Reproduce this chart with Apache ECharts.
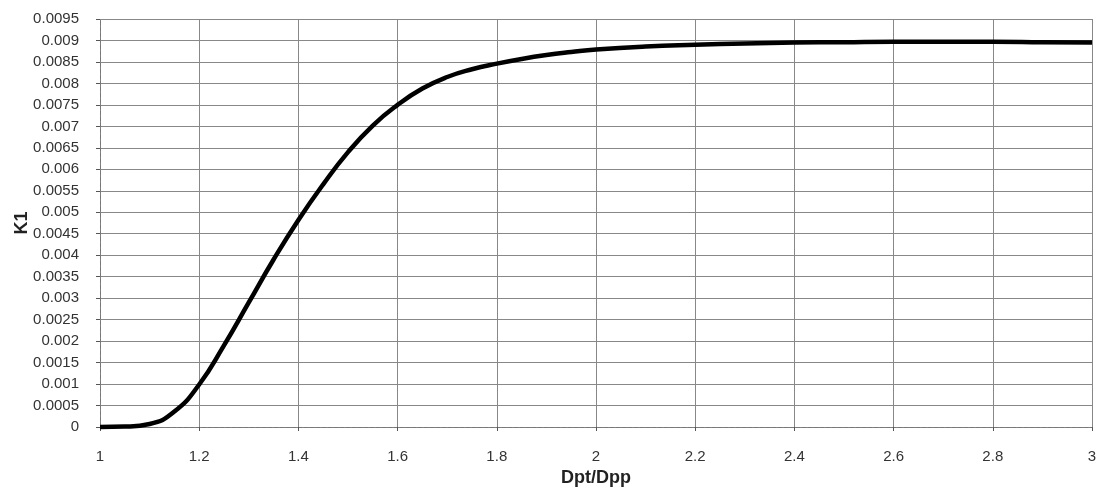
<!DOCTYPE html>
<html>
<head>
<meta charset="utf-8">
<script src="https://cdn.jsdelivr.net/npm/echarts@6/dist/echarts.min.js"></script>
<style>
html,body{margin:0;padding:0;background:#fff;}
#chart{width:1101px;height:491px;}
</style>
</head>
<body>
<div id="chart"></div>
<script>
const ratios = [1.00,1.05,1.10,1.15,1.20,1.25,1.30,1.35,1.40,1.45,1.50,1.55,1.60,1.65,1.70,1.75,1.80,1.85,1.90,1.95,2.00,2.10,2.20,2.30,2.40,2.50,2.60,2.70,2.80,2.90,3.00];
const k1 = [0,0.00001,0.00007,0.00036,0.00099,0.0019,0.0029,0.0039,0.00482,0.00565,0.0064,0.00702,0.0075,0.00788,0.00815,0.00833,0.00846,0.00857,0.00866,0.00873,0.00879,0.00886,0.0089,0.00893,0.00895,0.00896,0.00897,0.00897,0.00897,0.00896,0.00895];
const xTitle = 'Dpt/Dpp';
const yTitle = 'K1';

const chart = echarts.init(document.getElementById('chart'), null, {renderer:'canvas'});
const fmt = v => String(parseFloat(Number(v).toFixed(4)));
chart.setOption({
  animation:false,
  backgroundColor:'#fff',
  grid:{left:100,right:9,top:19,bottom:64,containLabel:false,outerBoundsMode:'none'},
  xAxis:{
    type:'value',min:1,max:3,interval:0.2,
    name:xTitle,nameLocation:'middle',nameGap:42,nameMoveOverlap:false,
    nameTextStyle:{fontFamily:'Liberation Sans',fontWeight:'bold',fontSize:18,color:'#222'},
    axisLine:{show:true,lineStyle:{color:'#777',width:1,type:'dashed'}},
    axisTick:{show:true,length:4,inside:false,lineStyle:{color:'#555'}},
    axisLabel:{margin:22,fontFamily:'Liberation Sans',fontSize:15,color:'#333',formatter:fmt},
    splitLine:{show:true,lineStyle:{color:'#888',width:1}}
  },
  yAxis:{
    type:'value',min:0,max:0.0095,interval:0.0005,
    name:yTitle,nameLocation:'middle',nameGap:69,nameRotate:90,nameMoveOverlap:false,
    nameTextStyle:{fontFamily:'Liberation Sans',fontWeight:'bold',fontSize:18,color:'#222'},
    axisLine:{show:true,lineStyle:{color:'#777',width:1,type:'dashed'}},
    axisTick:{show:true,length:4,inside:false,lineStyle:{color:'#555'}},
    axisLabel:{margin:21,fontFamily:'Liberation Sans',fontSize:15,color:'#333',formatter:fmt},
    splitLine:{show:true,lineStyle:{color:'#888',width:1}}
  },
  series:[{
    type:'line',
    data:ratios.map((x,i)=>[x,k1[i]]),
    smooth:0.5,
    showSymbol:false,
    lineStyle:{color:'#000',width:4.5},
    clip:false
  }]
});
</script>
</body>
</html>
